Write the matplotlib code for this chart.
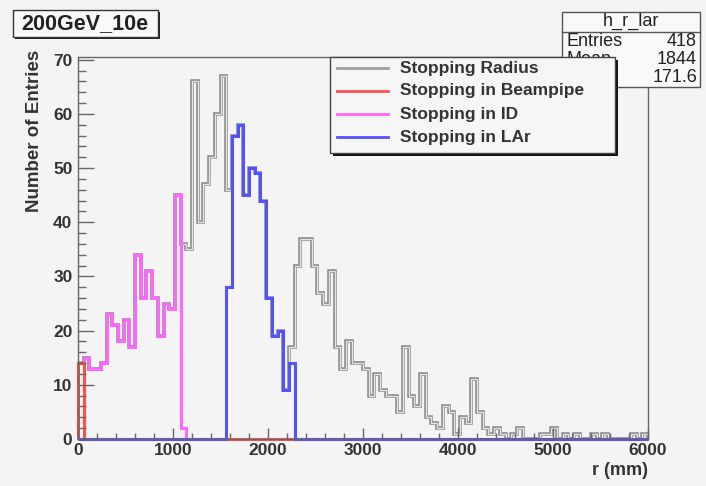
import numpy as np
import matplotlib.pyplot as plt
from matplotlib.patches import Rectangle
from matplotlib.ticker import MultipleLocator

plt.rcParams['font.family'] = ['Liberation Sans', 'DejaVu Sans']

# 100 bins of 60 mm between 0 and 6000 mm
bin_edges = np.arange(0, 6001, 60)

# Stopping Radius (all particles), one value per bin
total = [14, 15, 13, 13, 14, 23, 21, 18, 22, 17,
         34, 26, 31, 26, 19, 25, 24, 45, 36, 35,
         66, 40, 47, 52, 60, 67, 46, 56, 58, 45,
         50, 49, 44, 26, 19, 20, 9, 17, 32, 37,
         37, 32, 27, 25, 31, 17, 13, 18, 14, 14,
         13, 8, 12, 9, 8, 8, 5, 17, 8, 6,
         12, 4, 3, 2, 6, 5, 1, 4, 3, 11,
         5, 2, 1, 2, 1, 0, 1, 2, 0, 0,
         0, 1, 1, 2, 0, 1, 0, 1, 0, 0,
         1, 0, 1, 0, 0, 0, 0, 1, 0, 1]

# sub-samples: first non-empty bin and the counts that follow
beampipe_first = 0
beampipe = [14]
id_first = 1
id_counts = [15, 13, 13, 14, 23, 21, 18, 22, 17, 34, 26, 31, 26, 19, 25, 24, 45, 2]
lar_first = 26
lar = [28, 56, 58, 45, 50, 49, 44, 26, 19, 20, 9, 14]

stats_name = "h_r_lar"
stats_rows = [("Entries", "418"), ("Mean", "1844"), ("RMS", "171.6")]
legend_items = [("Stopping Radius", '#a0a0a0'),
                ("Stopping in Beampipe", '#ff5050'),
                ("Stopping in ID", '#ff66ff'),
                ("Stopping in LAr", '#5252ff')]


def full(first, vals):
    h = np.zeros(len(bin_edges) - 1)
    h[first:first + len(vals)] = vals
    return h


W, H = 706, 486
bg = '#f4f4f4'
fig = plt.figure(figsize=(W / 100, H / 100), dpi=100, facecolor=bg)
ax = fig.add_axes([78 / W, 1 - 439 / H, 570 / W, 382 / H])
ax.set_facecolor(bg)

# gray outline drawn as a tube (dark edge, light core) like the original
ax.stairs(total, bin_edges, color='#8e8e8e', lw=2.6)
ax.stairs(total, bin_edges, color='#e6e6e6', lw=0.9)
ax.stairs(full(id_first, id_counts), bin_edges, color='#ff66ff', lw=2.2)
ax.stairs(full(beampipe_first, beampipe), bin_edges, color='#ff5050', lw=2.2, clip_on=False)
ax.stairs(full(lar_first, lar), bin_edges, color='#5252ff', lw=2.2, clip_on=False)

ax.set_xlim(0, 6000)
ax.set_ylim(0, 70.5)
ax.xaxis.set_major_locator(MultipleLocator(1000))
ax.xaxis.set_minor_locator(MultipleLocator(200))
ax.yaxis.set_major_locator(MultipleLocator(10))
ax.yaxis.set_minor_locator(MultipleLocator(2))
ax.tick_params(axis='x', which='major', direction='in', length=8, width=1, color='#666', pad=3)
ax.tick_params(axis='x', which='minor', direction='in', length=4, width=1, color='#666')
ax.tick_params(axis='y', which='major', direction='in', length=11.5, width=1, color='#666', pad=4)
ax.tick_params(axis='y', which='minor', direction='in', length=6, width=1, color='#666')
for lab in ax.get_xticklabels() + ax.get_yticklabels():
    lab.set_fontsize(12.5)
    lab.set_fontweight('bold')
    lab.set_color('#333333')
for s in ax.spines.values():
    s.set_color('#666666')
    s.set_linewidth(1)

fig.text(35 / W, 1 - 50 / H, "Number of Entries", rotation=90, ha='center', va='top',
         fontsize=13.5, fontweight='bold', color='#333333')
fig.text(648 / W, 1 - 470 / H, "r (mm)", ha='right', va='center',
         fontsize=13, fontweight='bold', color='#333333')

# overlay in pixel coordinates for boxes
ov = fig.add_axes([0, 0, 1, 1])
ov.set_xlim(0, W)
ov.set_ylim(H, 0)
ov.axis('off')
ov.patch.set_alpha(0)

# title box
ov.add_patch(Rectangle((15, 12), 145, 27, facecolor='#222222', edgecolor='none'))
ov.add_patch(Rectangle((13, 10), 145, 27, facecolor='#f8f8f8', edgecolor='#333333', lw=1))
ov.text(85, 24, "200GeV_10e", ha='center', va='center', fontsize=15.5, fontweight='bold', color='#222222')

# stats box
ov.add_patch(Rectangle((562, 12), 138, 75, facecolor='#f8f8f8', edgecolor='#555555', lw=1, zorder=1))
ov.plot([562, 700], [32, 32], color='#555555', lw=1, zorder=1)
ov.text(631, 21, stats_name, ha='center', va='center', fontsize=13, color='#222222', zorder=2)
for k, (name, val) in enumerate(stats_rows):
    y = 42 + 18 * k
    ov.text(566, y, name, ha='left', va='center', fontsize=13, color='#222222', zorder=2)
    ov.text(697, y, val, ha='right', va='center', fontsize=13, color='#222222', zorder=2)

# legend box with shadow, drawn over the stats box
ov.add_patch(Rectangle((333, 60), 285, 96, facecolor='#111111', edgecolor='none', zorder=5))
ov.add_patch(Rectangle((330, 57), 285, 96, facecolor='#f6f6f6', edgecolor='#444444', lw=1, zorder=6))
for k, (label, col) in enumerate(legend_items):
    y = 68 + 23 * k
    ov.plot([337, 388], [y, y], color=col, lw=2, zorder=7)
    ov.text(400, y, label, ha='left', va='center', fontsize=12.5, fontweight='bold',
            color='#333333', zorder=7)

fig.savefig('out.png', dpi=100, facecolor=bg)
